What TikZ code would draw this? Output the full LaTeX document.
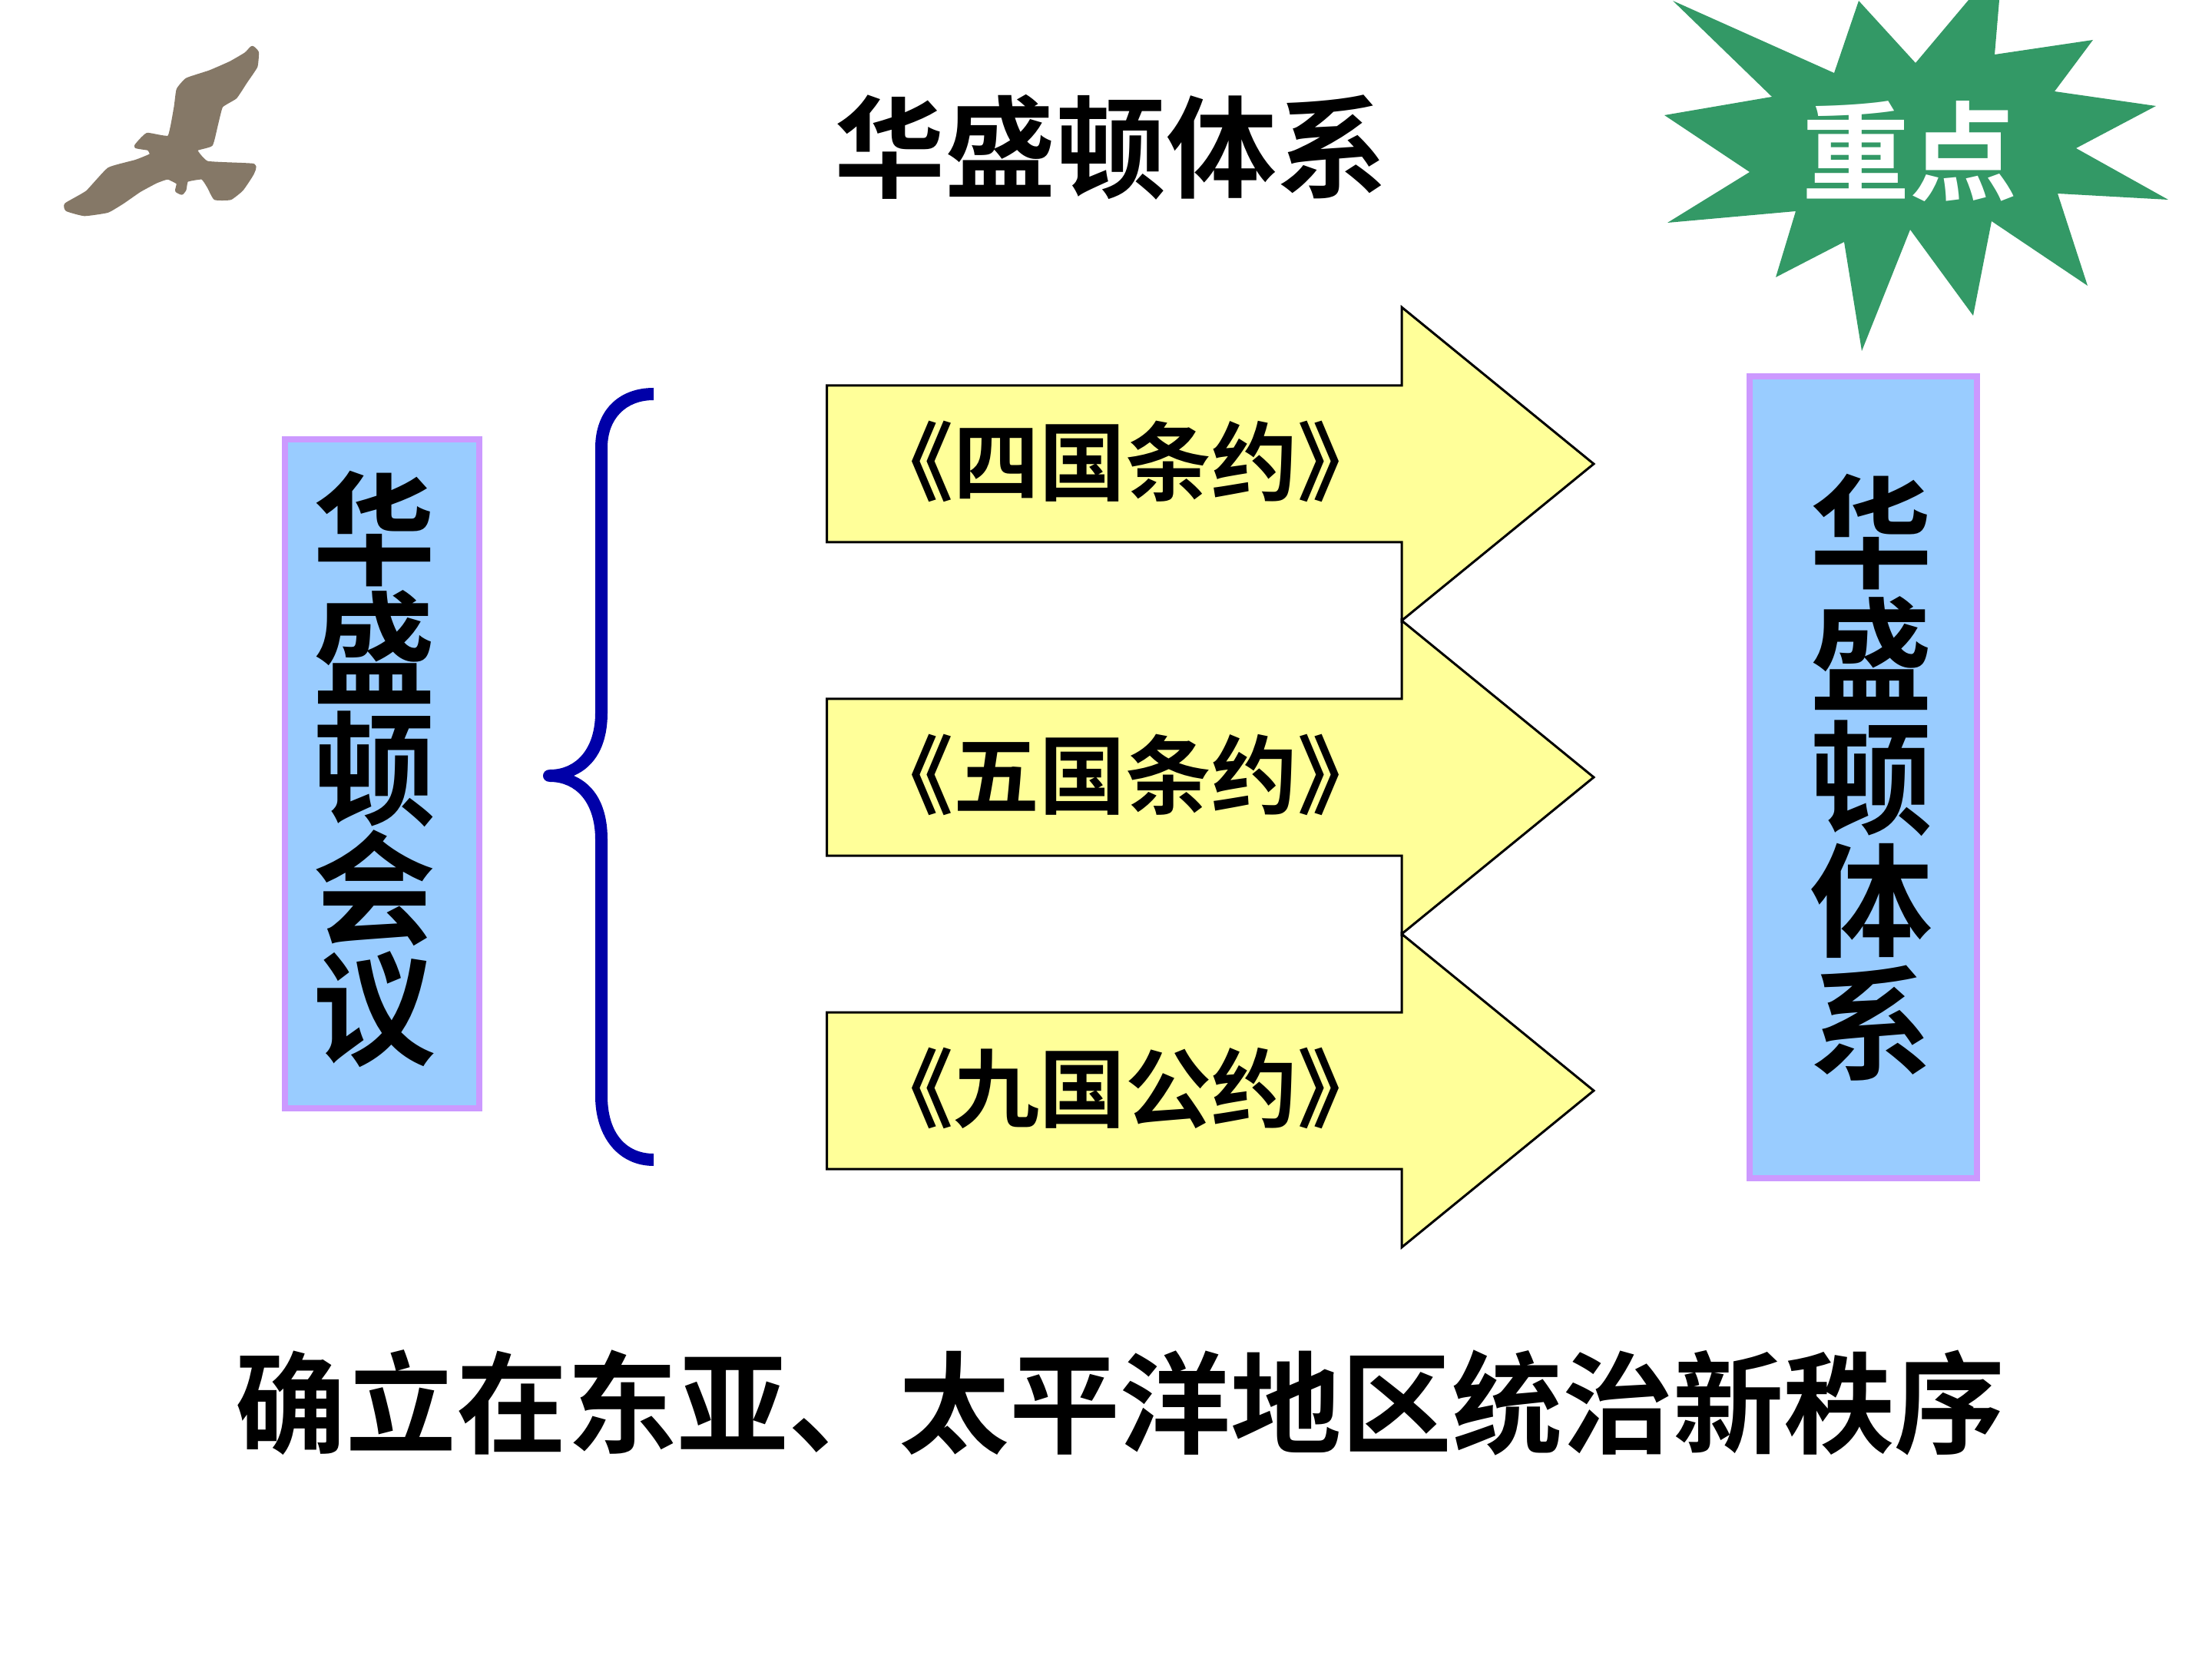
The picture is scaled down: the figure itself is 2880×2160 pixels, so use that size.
\documentclass[tikz,border=0pt]{standalone}
\usepackage{fontspec}
\setmainfont{Noto Sans CJK SC}[BoldFont=* Bold]
\definecolor{boxfill}{HTML}{99CCFF}
\definecolor{boxrim}{HTML}{CC99FF}
\definecolor{arrowfill}{HTML}{FFFF99}
\definecolor{burst}{HTML}{339966}
\definecolor{bracecol}{HTML}{0000A8}
\definecolor{birdcol}{HTML}{857867}
\newcommand{\cjksize}[1]{\fontsize{#1}{#1}\selectfont\bfseries}
\tikzset{
  panel/.style={draw=boxrim,fill=boxfill,line width=2.15pt,inner sep=0pt,outer sep=0pt},
  stacked/.style={inner sep=0pt,align=center,font=\cjksize{40}},
  treaty/.style={draw=black,fill=arrowfill,line width=0.75pt,line join=miter},
  treatylabel/.style={inner sep=0pt,font=\cjksize{28}},
  headline/.style={inner sep=0pt,font=\cjksize{36}}
}
\begin{document}
\begin{tikzpicture}[x=0.25pt,y=-0.25pt]
\useasboundingbox[fill=white] (0,0) rectangle (2880,2160);

% soaring bird silhouette
\begin{scope}[scale=1/3]
\filldraw[birdcol,line width=1pt,line join=round] plot[smooth cycle,tension=0.25] coordinates {
 (985,185)(1005,205)(1000,260)(960,320)(920,380)(865,415)(845,490)(825,565)
 (765,585)(810,635)(990,645)(985,680)(945,740)(900,775)(840,775)(815,730)
 (790,695)(730,705)(722,740)(710,755)(690,745)(695,715)(655,695)(610,710)
 (545,745)(480,790)(420,825)(330,838)(262,820)(258,798)(340,750)(425,660)
 (530,630)(590,605)(580,582)(530,572)(575,525)(660,535)(685,420)(695,350)
 (730,310)(820,280)(900,245)(960,210)};
\end{scope}

% title
\node[headline] (title) at (1446,192) {华盛顿体系};

% green burst with its label
\fill[burst] (2178,1)--(2388,95)--(2420,1)--(2494,82)--(2563,0)--(2603,0)
 --(2597,71)--(2725,52)--(2675,119)--(2807,138)--(2703,193)--(2823,260)
 --(2679,252)--(2718,372)--(2593,288)--(2569,411)--(2487,299)--(2424,457)
 --(2401,315)--(2312,361)--(2338,275)--(2171,290)--(2278,224)--(2167,150)
 --(2307,126)--cycle;
\node[inner sep=0pt,text=white,font=\cjksize{35}] (keypoint) at (2486,197) {重点};

% conference panel
\node[panel,minimum width=63.25pt,minimum height=217.75pt] (confbox) at (497.5,1007.5) {};
\node[inner sep=0pt,align=center,font=\fontsize{40}{39}\selectfont\bfseries] (conftext) at (487,1001) {华\\盛\\顿\\会\\议};

% curly brace, tapering to its point
\fill[bracecol]
 (851,505) .. controls (805,505) and (775,535) .. (775,583)
 -- (775,928) .. controls (775,975) and (750,1002) .. (716,1002)
 .. controls (704,1002) and (704,1018) .. (716,1018)
 .. controls (750,1018) and (775,1045) .. (775,1093)
 -- (775,1427) .. controls (775,1480) and (805,1518) .. (851,1518)
 -- (851,1502) .. controls (815,1502) and (791,1475) .. (791,1427)
 -- (791,1093) .. controls (791,1050) and (775,1022) .. (747,1010)
 .. controls (775,998) and (791,970) .. (791,928)
 -- (791,583) .. controls (791,545) and (815,521) .. (851,521) -- cycle;

% treaty arrows
\foreach \cy/\txt/\nm in {604/《四国条约》/four,1012/《五国条约》/five,1420/《九国公约》/nine}{
  \draw[treaty] (1076.5,\cy-102) -- (1825,\cy-102) -- (1825,\cy-204) -- (2075,\cy)
    -- (1825,\cy+204) -- (1825,\cy+102) -- (1076.5,\cy+102) -- cycle;
  \node[treatylabel] (\nm) at (1465,\cy-3) {\txt};
}

% system panel
\node[panel,minimum width=74pt,minimum height=261pt] (sysbox) at (2426,1012) {};
\node[stacked] (systext) at (2436,1012) {华\\盛\\顿\\体\\系};

% closing line
\node[headline] (closing) at (1458,1826) {确立在东亚、太平洋地区统治新秩序};
\end{tikzpicture}
\end{document}
